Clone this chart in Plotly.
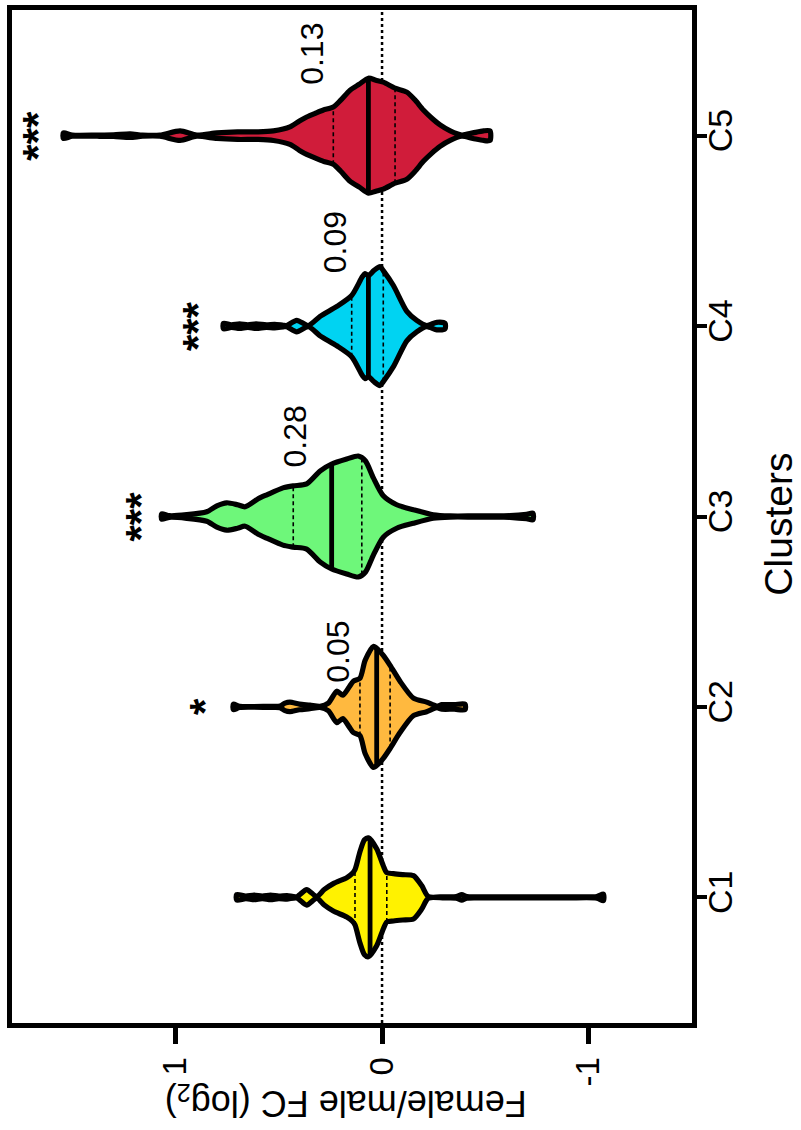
import numpy as np
import plotly.graph_objects as go

# ---------------- data ----------------
clusters = ["C1", "C2", "C3", "C4", "C5"]
fill_colors = ["#FFF200", "#FFB93F", "#6EF77A", "#00D3F2", "#D01C3A"]

# violin profiles: log2 FC value  -> relative density (half width)
c1_values = [0.704, 0.66, 0.62, 0.58, 0.54, 0.50, 0.46, 0.413, 0.365, 0.316, 0.28, 0.236, 0.171, 0.145, 0.131,
             0.107, 0.085, 0.066, 0.026, -0.006, -0.023, -0.055, -0.100, -0.152, -0.192, -0.224, -0.30, -0.36,
             -0.386, -0.41, -0.50, -0.70, -0.90, -1.04, -1.072]
c1_density = [5, 3.5, 4.5, 3.5, 4.5, 3.5, 4, 2.5, 10, 3, 10, 16, 22, 26, 30,
              48, 60, 62, 51, 34, 27, 26, 25, 24, 14, 3, 2.5, 3,
              5, 3, 2.5, 2.5, 2.5, 3, 5.5]

c2_values = [0.720, 0.69, 0.55, 0.494, 0.470, 0.446, 0.40, 0.349, 0.300, 0.260, 0.219, 0.190, 0.160, 0.139,
             0.107, 0.082, 0.042, 0.020, -0.006, -0.039, -0.087, -0.152, -0.216, -0.265, -0.290, -0.35, -0.402]
c2_density = [5, 2.5, 2.5, 3, 6, 7, 5, 4, 2, 6, 18, 14, 22, 28,
              31, 49, 63, 60, 54, 44, 28, 11, 7, 3, 4.5, 4.5, 5]

c3_values = [1.067, 1.03, 0.946, 0.849, 0.80, 0.752, 0.70, 0.663, 0.60, 0.558, 0.480, 0.430, 0.365, 0.300,
             0.244, 0.171, 0.115, 0.080, 0.042, -0.006, -0.071, -0.152, -0.248, -0.329, -0.45, -0.59, -0.62,
             -0.70, -0.731]
c3_density = [5, 3, 4, 7, 13, 16, 14, 12, 20, 24, 31, 33, 35, 48,
              55, 60, 63, 58, 41, 23, 14, 9, 4, 2, 2, 2, 3,
              4.5, 5.5]

c4_values = [0.768, 0.73, 0.69, 0.65, 0.61, 0.56, 0.52, 0.478, 0.462, 0.413, 0.357, 0.300, 0.219, 0.147,
             0.095, 0.082, 0.066, 0.040, 0.010, -0.006, -0.055, -0.120, -0.168, -0.216, -0.265, -0.305]
c4_density = [5, 3.5, 4.5, 3.5, 4.5, 3.5, 4, 3, 2, 8, 2, 12, 22, 33,
              52, 55, 53, 58, 62, 58, 43, 17, 8, 2, 6, 5]

c5_values = [1.543, 1.50, 1.38, 1.30, 1.22, 1.16, 1.075, 0.978, 0.897, 0.80, 0.70, 0.60, 0.526, 0.446,
             0.40, 0.365, 0.32, 0.284, 0.236, 0.20, 0.155, 0.11, 0.066, 0.03, -0.006, -0.063, -0.120,
             -0.16, -0.200, -0.24, -0.281, -0.33, -0.386, -0.44, -0.491, -0.523]
c5_density = [5, 2.5, 2.5, 3, 4, 2.5, 2, 7, 2, 5, 6, 6, 7, 11,
              17, 21, 25, 28, 31, 38, 48, 54, 60, 58, 56, 50, 46,
              38, 28, 20, 13, 7, 2, 5, 7, 7]

# quartiles (upper quartile, median, lower quartile)
q_upper = [0.131, 0.107, 0.430, 0.147, 0.236]
q_median = [0.058, 0.026, 0.244, 0.066, 0.066]
q_lower = [-0.023, -0.039, 0.098, -0.006, -0.063]

value_labels = ["", "0.05", "0.28", "0.09", "0.13"]
significance = ["", "*", "***", "***", "***"]

x_ticks = [1, 0, -1]
x_ticktext = ["1", "0", "-1"]

# ---------------- styling / layout constants ----------------
profiles_v = [c1_values, c2_values, c3_values, c4_values, c5_values]
profiles_d = [c1_density, c2_density, c3_density, c4_density, c5_density]
WIDTH_SCALE = 1 / 191.5      # density unit -> category units
STROKE_INSET = 2.2
label_pos = [None, (0.213, 1.29), (0.422, 2.42), (0.228, 3.44), (0.339, 4.43)]
star_pos = [None, (0.857, 1.0), (1.172, 2.0), (0.896, 3.0), (1.666, 4.0)]

FONT = "Liberation Sans, Arial, sans-serif"

fig = go.Figure()

for i in range(len(clusters)):
    v = np.array(profiles_v[i], dtype=float)
    hw = np.clip(np.array(profiles_d[i], dtype=float) - STROKE_INSET, 0.6, None) * WIDTH_SCALE
    xs = np.concatenate([v, v[::-1], v[:1]])
    ys = np.concatenate([i + hw, (i - hw)[::-1], [i + hw[0]]])
    fig.add_trace(go.Scatter(
        x=xs, y=ys, mode="lines", fill="toself", fillcolor=fill_colors[i],
        line=dict(color="black", width=5.2, shape="spline", smoothing=0.7),
        hoverinfo="skip", showlegend=False))
    asc_v = v[::-1]
    asc_hw = hw[::-1]
    for q, w, dash in [(q_upper[i], 1.6, "4px,3px"), (q_lower[i], 1.6, "4px,3px"), (q_median[i], 4.8, "solid")]:
        h = float(np.interp(q, asc_v, asc_hw))
        fig.add_trace(go.Scatter(
            x=[q, q], y=[i - h, i + h], mode="lines",
            line=dict(color="black", width=w, dash=dash),
            hoverinfo="skip", showlegend=False))

annotations = []
for i in range(len(clusters)):
    if value_labels[i]:
        annotations.append(dict(x=label_pos[i][0], y=label_pos[i][1], text=value_labels[i],
                                showarrow=False, textangle=-90, font=dict(family=FONT, size=32, color="black")))
    if significance[i]:
        annotations.append(dict(x=star_pos[i][0], y=star_pos[i][1], text="<b>" + significance[i] + "</b>",
                                showarrow=False, textangle=-90, font=dict(family=FONT, size=42, color="black")))

annotations.append(dict(xref="paper", yref="paper", x=1.128, y=0.492, xanchor="center", yanchor="middle",
                        text="Clusters", showarrow=False,
                        textangle=-90, font=dict(family=FONT, size=39, color="black")))
annotations.append(dict(xref="paper", yref="paper", x=0.491, y=-0.0776, xanchor="center", yanchor="middle",
                        text="Female/male FC (log<sub>2</sub>)",
                        showarrow=False, textangle=180, font=dict(family=FONT, size=36, color="black")))

fig.update_layout(
    width=801, height=1130,
    margin=dict(l=12, r=109, t=5, b=107),
    plot_bgcolor="white", paper_bgcolor="white",
    annotations=annotations,
    shapes=[dict(type="line", xref="x", yref="y domain", x0=0, x1=0, y0=0, y1=1, layer="below",
                 line=dict(color="black", width=2.5, dash="dot"))],
)
fig.update_xaxes(range=[1.792, -1.501], tickvals=x_ticks, ticktext=x_ticktext, tickangle=-90,
                 ticks="outside", ticklen=16, tickwidth=5, tickcolor="black",
                 showline=True, linewidth=5, linecolor="black", mirror=True,
                 showgrid=False, zeroline=False,
                 tickfont=dict(family=FONT, size=33, color="black"))
fig.update_yaxes(range=[-0.66, 4.66], tickvals=list(range(len(clusters))), ticktext=clusters, tickangle=-90,
                 side="right", ticks="outside", ticklen=10, tickwidth=4, tickcolor="black",
                 showline=True, linewidth=5, linecolor="black", mirror=True,
                 showgrid=False, zeroline=False, ticklabelstandoff=-16,
                 tickfont=dict(family=FONT, size=34, color="black"))

fig.write_html("out.html")
